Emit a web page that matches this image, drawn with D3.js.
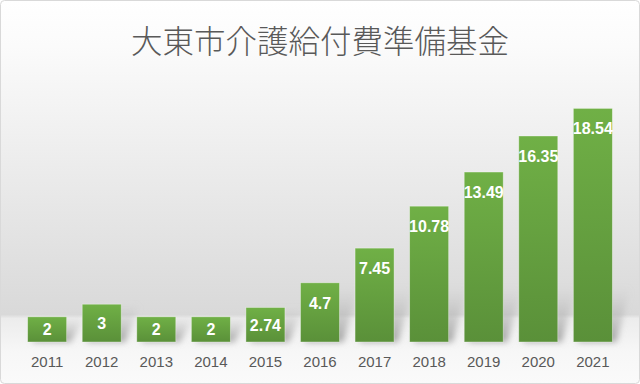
<!DOCTYPE html>
<html>
<head>
<meta charset="utf-8">
<script src="https://cdn.jsdelivr.net/npm/d3@7"></script>
<style>
  html, body { margin: 0; padding: 0; background: #fff; }
  svg { display: block; }
</style>
</head>
<body>
<svg id="chart" width="640" height="384"></svg>
<script>
// chart data
const years = ["2011", "2012", "2013", "2014", "2015", "2016", "2017", "2018", "2019", "2020", "2021"];
const values = [2, 3, 2, 2, 2.74, 4.7, 7.45, 10.78, 13.49, 16.35, 18.54];
const chartTitle = "大東市介護給付費準備基金";

const W = 640, H = 384;
const svg = d3.select("#chart");
const defs = svg.append("defs");

// background gradient (white -> grey wall, then a light floor)
const bg = defs.append("linearGradient").attr("id", "bg")
    .attr("x1", 0).attr("y1", 0).attr("x2", 0).attr("y2", 1);
bg.append("stop").attr("offset", "0%").attr("stop-color", "#ffffff");
bg.append("stop").attr("offset", "12%").attr("stop-color", "#fbfbfb");
bg.append("stop").attr("offset", "82%").attr("stop-color", "#d9d9d9");
bg.append("stop").attr("offset", "83%").attr("stop-color", "#ececec");
bg.append("stop").attr("offset", "92%").attr("stop-color", "#f7f7f7");
bg.append("stop").attr("offset", "100%").attr("stop-color", "#fafafa");

const barGrad = defs.append("linearGradient").attr("id", "barGrad")
    .attr("x1", 0).attr("y1", 0).attr("x2", 0).attr("y2", 1);
barGrad.append("stop").attr("offset", "0%").attr("stop-color", "#70b046");
barGrad.append("stop").attr("offset", "100%").attr("stop-color", "#5a9039");

const shadowGrad = defs.append("linearGradient").attr("id", "shadowGrad")
    .attr("x1", 0).attr("y1", 1).attr("x2", 0).attr("y2", 0);
shadowGrad.append("stop").attr("offset", "0%").attr("stop-color", "#959595").attr("stop-opacity", 0.85);
shadowGrad.append("stop").attr("offset", "100%").attr("stop-color", "#bbbbbb").attr("stop-opacity", 0);

defs.append("filter").attr("id", "blur")
    .attr("x", "-50%").attr("y", "-50%").attr("width", "200%").attr("height", "200%")
    .append("feGaussianBlur").attr("stdDeviation", 3);

svg.append("rect")
    .attr("x", 0.5).attr("y", 0.5)
    .attr("width", W - 1).attr("height", H - 1)
    .attr("rx", 4)
    .attr("fill", "url(#bg)")
    .attr("stroke", "#d9d9d9");

// title
svg.append("text")
    .attr("x", W / 2)
    .attr("y", 53)
    .attr("text-anchor", "middle")
    .attr("font-family", "'Noto Sans CJK JP', 'Noto Sans CJK SC', sans-serif")
    .attr("font-weight", 300)
    .attr("font-size", 31.5)
    .attr("fill", "#595959")
    .text(chartTitle);

// scales
const x = d3.scaleBand()
    .domain(years)
    .range([20, 620])
    .paddingInner(0.285)
    .paddingOuter(0.14);

const y = d3.scaleLinear()
    .domain([0, 20])
    .range([342, 90]);

const rows = years.map((yr, i) => ({ year: yr, value: values[i] }));

// soft shadows cast on the back wall
svg.append("g").attr("filter", "url(#blur)")
    .selectAll("polygon")
    .data(rows)
    .join("polygon")
    .attr("fill", "url(#shadowGrad)")
    .attr("points", d => {
        const x0 = x(d.year), x1 = x0 + x.bandwidth();
        const b = y(0), h = Math.min(y(0) - y(d.value), 55);
        return [[x0 + 4, b], [x1 + 4, b], [x1 + 18, b - h], [x0 + 18, b - h]].join(" ");
    });

// bars
svg.append("g")
    .selectAll("rect")
    .data(rows)
    .join("rect")
    .attr("x", d => x(d.year))
    .attr("y", d => y(d.value))
    .attr("width", x.bandwidth())
    .attr("height", d => y(0) - y(d.value))
    .attr("fill", "url(#barGrad)")
    .attr("stroke", "rgba(255,255,255,0.45)")
    .attr("stroke-width", 0.8);

// value labels
svg.append("g")
    .selectAll("text")
    .data(rows)
    .join("text")
    .attr("x", d => x(d.year) + x.bandwidth() / 2)
    .attr("y", d => {
        const top = y(d.value), mid = (y(d.value) + y(0)) / 2;
        return Math.min(top + 20, mid) + 6;
    })
    .attr("text-anchor", "middle")
    .attr("font-family", "'Liberation Sans', Arial, sans-serif")
    .attr("font-weight", "bold")
    .attr("font-size", 16)
    .attr("fill", "#ffffff")
    .text(d => String(d.value));

// x axis
const xAxis = svg.append("g")
    .attr("transform", `translate(0, ${y(0)})`)
    .attr("font-size", 15)
    .call(d3.axisBottom(x).tickSize(0).tickPadding(14));
xAxis.select(".domain").remove();
xAxis.selectAll("text")
    .style("font-family", "'Liberation Sans', Arial, sans-serif")
    .style("font-size", "15px")
    .style("fill", "#595959");
</script>
</body>
</html>
